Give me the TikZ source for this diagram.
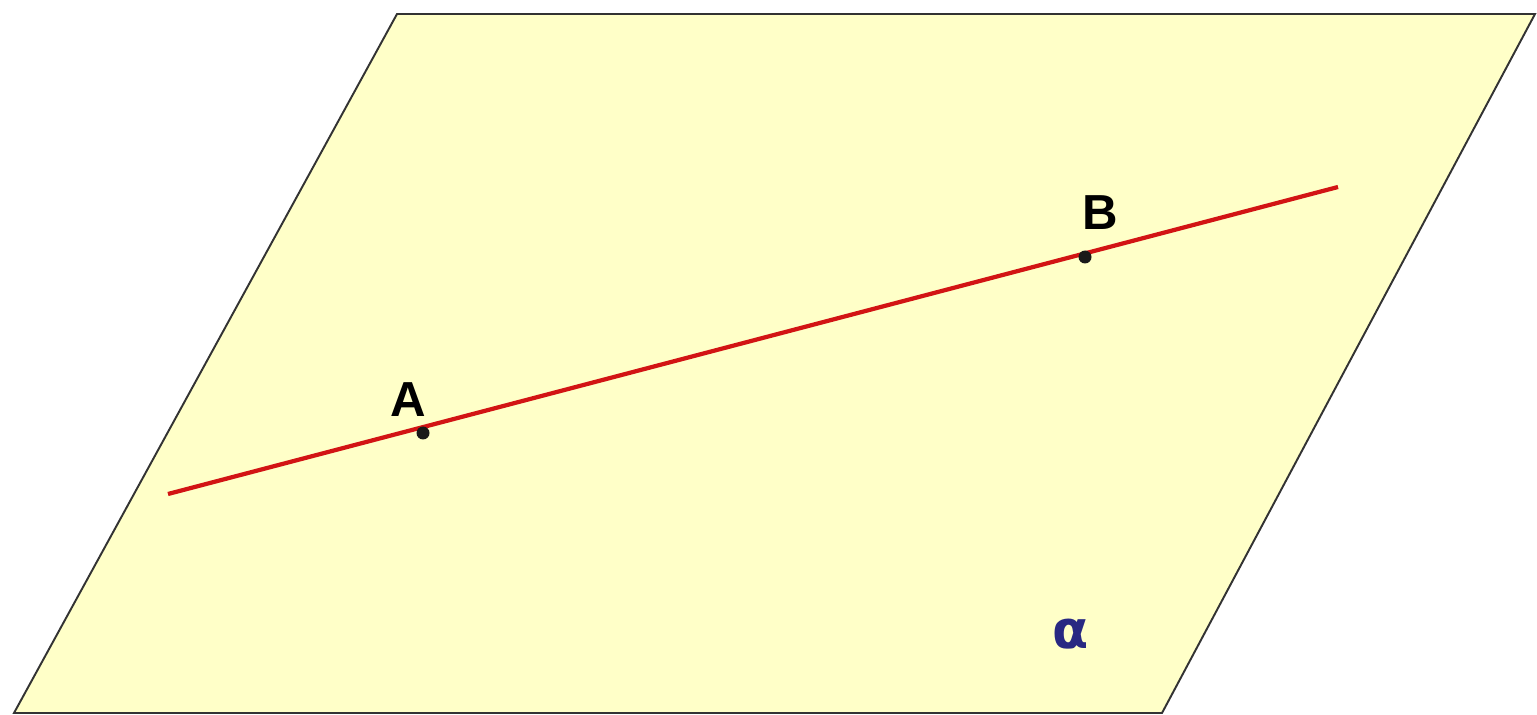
\documentclass[tikz,border=0pt]{standalone}
\usepackage{fontspec}
\setmainfont{Liberation Sans}
\newfontfamily\greekfont{DejaVu Sans}
\definecolor{planefill}{RGB}{255,255,200}
\definecolor{linered}{RGB}{210,20,20}
\definecolor{alphablue}{RGB}{40,40,130}
\begin{document}
\begin{tikzpicture}[x=0.02cm,y=-0.02cm,
  plane/.style={fill=planefill,draw=black!80,line width=1.1pt},
  redline/.style={draw=linered,line width=2.4pt},
  pointdot/.style={circle,fill=black!90,inner sep=0pt,minimum size=0.26cm},
  ptlabel/.style={font=\bfseries\fontsize{28}{32}\selectfont,inner sep=0pt}]
\useasboundingbox (0,0) rectangle (1537,715);
\coordinate (p1) at (397,14);
\coordinate (p2) at (1535,14);
\coordinate (p3) at (1162,713);
\coordinate (p4) at (14,713);
\path[plane] (p1) -- (p2) -- (p3) -- (p4) -- cycle;
\coordinate (L) at (168,494);
\coordinate (R) at (1338,187);
\draw[redline] (L) -- (R);
\node[pointdot] (A) at (423,433) {};
\node[pointdot] (B) at (1085,257) {};
\node[ptlabel] (Alab) at (408,400) {A};
\node[ptlabel] (Blab) at (1100,213) {B};
\node[inner sep=0pt,text=alphablue,font=\greekfont\bfseries\fontsize{30}{34}\selectfont] (alpha) at (1071,634) {α};
\end{tikzpicture}
\end{document}
